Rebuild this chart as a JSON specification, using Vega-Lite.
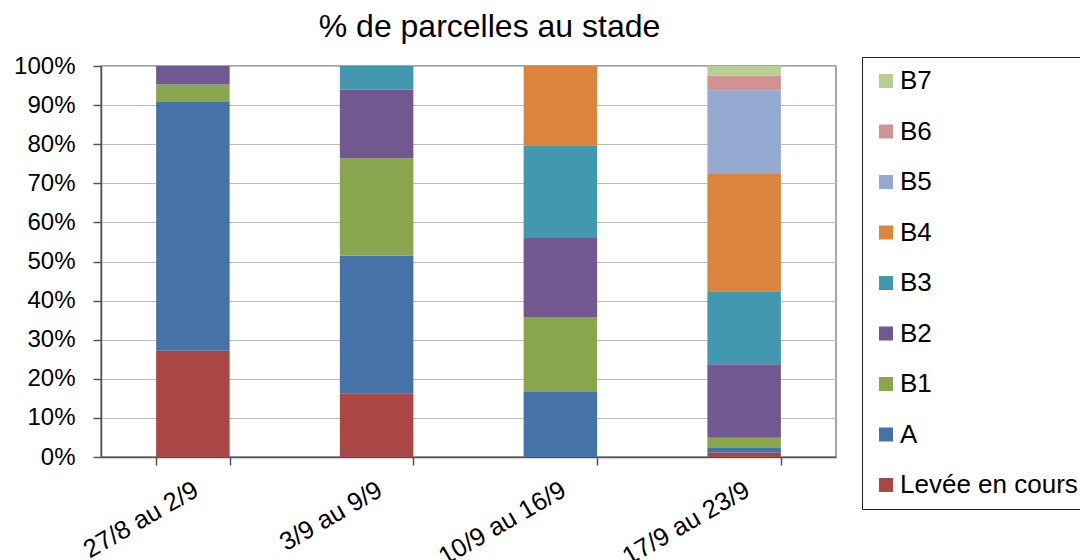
{
  "$schema": "https://vega.github.io/schema/vega-lite/v6.json",
  "autosize": "none",
  "width": 735,
  "height": 391,
  "padding": {"left": 101, "top": 66, "right": 244, "bottom": 103},
  "background": "white",
  "title": {
    "text": "% de parcelles au stade",
    "fontSize": 32,
    "font": "Liberation Sans",
    "fontWeight": "normal",
    "color": "black",
    "anchor": "middle",
    "frame": "group",
    "baseline": "alphabetic",
    "dx": 21,
    "dy": 43,
    "offset": 28
  },
  "data": {
    "values": [
      {"semaine": "27/8 au 2/9", "stade": "Levée en cours", "k": 0, "pct": 27.2},
      {"semaine": "27/8 au 2/9", "stade": "A", "k": 1, "pct": 63.6},
      {"semaine": "27/8 au 2/9", "stade": "B1", "k": 2, "pct": 4.5},
      {"semaine": "27/8 au 2/9", "stade": "B2", "k": 3, "pct": 4.7},
      {"semaine": "3/9 au 9/9", "stade": "Levée en cours", "k": 0, "pct": 16.2},
      {"semaine": "3/9 au 9/9", "stade": "A", "k": 1, "pct": 35.3},
      {"semaine": "3/9 au 9/9", "stade": "B1", "k": 2, "pct": 24.9},
      {"semaine": "3/9 au 9/9", "stade": "B2", "k": 3, "pct": 17.6},
      {"semaine": "3/9 au 9/9", "stade": "B3", "k": 4, "pct": 6.0},
      {"semaine": "10/9 au 16/9", "stade": "A", "k": 1, "pct": 16.6},
      {"semaine": "10/9 au 16/9", "stade": "B1", "k": 2, "pct": 19.2},
      {"semaine": "10/9 au 16/9", "stade": "B2", "k": 3, "pct": 20.2},
      {"semaine": "10/9 au 16/9", "stade": "B3", "k": 4, "pct": 23.7},
      {"semaine": "10/9 au 16/9", "stade": "B4", "k": 5, "pct": 20.3},
      {"semaine": "17/9 au 23/9", "stade": "Levée en cours", "k": 0, "pct": 1.1},
      {"semaine": "17/9 au 23/9", "stade": "A", "k": 1, "pct": 1.2},
      {"semaine": "17/9 au 23/9", "stade": "B1", "k": 2, "pct": 2.6},
      {"semaine": "17/9 au 23/9", "stade": "B2", "k": 3, "pct": 18.8},
      {"semaine": "17/9 au 23/9", "stade": "B3", "k": 4, "pct": 18.7},
      {"semaine": "17/9 au 23/9", "stade": "B4", "k": 5, "pct": 30.0},
      {"semaine": "17/9 au 23/9", "stade": "B5", "k": 6, "pct": 21.4},
      {"semaine": "17/9 au 23/9", "stade": "B6", "k": 7, "pct": 3.8},
      {"semaine": "17/9 au 23/9", "stade": "B7", "k": 8, "pct": 2.4}
    ]
  },
  "mark": {"type": "bar"},
  "encoding": {
    "x": {
      "field": "semaine",
      "type": "nominal",
      "sort": null,
      "scale": {"paddingInner": 0.6, "paddingOuter": 0.3},
      "axis": {
        "title": null,
        "labelAngle": -30,
        "labelAlign": "right",
        "labelBaseline": "top",
        "labelFontSize": 25.5,
        "labelFont": "Liberation Sans",
        "labelColor": "black",
        "labelPadding": 12,
        "labelOffset": -3,
        "tickBand": "extent",
        "tickSize": 8,
        "tickColor": "#555555",
        "tickWidth": 1.5,
        "domainColor": "#555555",
        "domainWidth": 1.5,
        "grid": false
      }
    },
    "y": {
      "field": "pct",
      "type": "quantitative",
      "stack": "zero",
      "scale": {"domain": [0, 100], "nice": false},
      "axis": {
        "title": null,
        "values": [0, 10, 20, 30, 40, 50, 60, 70, 80, 90, 100],
        "labelExpr": "datum.value + '%'",
        "labelFontSize": 24,
        "labelFont": "Liberation Sans",
        "labelColor": "black",
        "labelPadding": 18,
        "tickSize": 8,
        "tickColor": "#555555",
        "tickWidth": 1.5,
        "domainColor": "#555555",
        "domainWidth": 1.5,
        "grid": true,
        "gridColor": "#bcbcbc",
        "gridWidth": 1.2
      }
    },
    "color": {
      "field": "stade",
      "type": "nominal",
      "scale": {
        "domain": ["B7", "B6", "B5", "B4", "B3", "B2", "B1", "A", "Levée en cours"],
        "range": ["#B9CD96", "#D19392", "#93A9CF", "#DB843D", "#4198AF", "#71588F", "#89A54E", "#4572A7", "#AA4643"]
      },
      "legend": {
        "title": null,
        "orient": "none",
        "legendX": 761,
        "legendY": -9,
        "symbolType": "square",
        "symbolSize": 196,
        "symbolStrokeWidth": 0,
        "labelFontSize": 26,
        "labelFont": "Liberation Sans",
        "labelColor": "black",
        "labelOffset": 1,
        "rowPadding": 24.5,
        "padding": 11,
        "strokeColor": "#222222",
        "fillColor": "white",
        "labelLimit": 400
      }
    },
    "order": {"field": "k", "type": "quantitative", "sort": "ascending"}
  },
  "config": {
    "view": {"stroke": "#888888", "strokeWidth": 1.5},
    "font": "Liberation Sans"
  }
}
